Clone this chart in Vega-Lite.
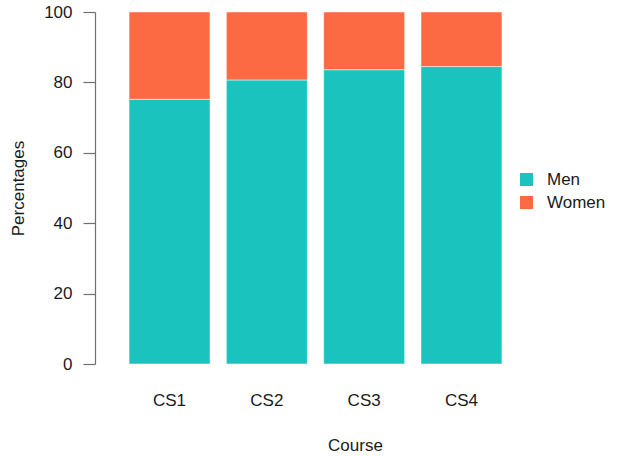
{
  "$schema": "https://vega.github.io/schema/vega-lite/v6.json",
  "width": 441,
  "height": 352,
  "autosize": {"type": "none"},
  "padding": {"left": 95, "top": 12, "right": 82, "bottom": 92},
  "background": "white",
  "config": {
    "view": {"stroke": null},
    "font": "Liberation Sans"
  },
  "data": {
    "values": [
      {"course": "CS1", "sex": "Men", "pct": 75.2},
      {"course": "CS1", "sex": "Women", "pct": 24.8},
      {"course": "CS2", "sex": "Men", "pct": 80.7},
      {"course": "CS2", "sex": "Women", "pct": 19.3},
      {"course": "CS3", "sex": "Men", "pct": 83.6},
      {"course": "CS3", "sex": "Women", "pct": 16.4},
      {"course": "CS4", "sex": "Men", "pct": 84.5},
      {"course": "CS4", "sex": "Women", "pct": 15.5}
    ]
  },
  "mark": {"type": "bar", "stroke": "white", "strokeWidth": 0.5},
  "encoding": {
    "x": {
      "field": "course",
      "type": "nominal",
      "scale": {"paddingInner": 0.168, "paddingOuter": 0.35},
      "axis": {
        "title": "Course",
        "labelAngle": 0,
        "domain": false,
        "ticks": false,
        "grid": false,
        "labelFontSize": 17,
        "labelColor": "#1a1a1a",
        "labelPadding": 28,
        "titleFontSize": 17,
        "titleFontWeight": "normal",
        "titleColor": "#1a1a1a",
        "titleX": 260,
        "titleY": 81,
        "titleBaseline": "middle",
        "titleAlign": "center"
      }
    },
    "y": {
      "field": "pct",
      "type": "quantitative",
      "stack": "zero",
      "scale": {"domain": [0, 100], "nice": false},
      "axis": {
        "title": "Percentages",
        "values": [0, 20, 40, 60, 80, 100],
        "grid": false,
        "tickSize": 12,
        "tickColor": "#707070",
        "domainColor": "#707070",
        "tickWidth": 1.2,
        "domainWidth": 1.2,
        "labelFontSize": 17,
        "labelColor": "#1a1a1a",
        "labelPadding": 11,
        "titleFontSize": 17,
        "titleFontWeight": "normal",
        "titleColor": "#1a1a1a",
        "titleX": -77,
        "titleY": 176,
        "titleAlign": "center",
        "titleBaseline": "middle",
        "titleAngle": -90
      }
    },
    "order": {"field": "sex", "sort": "ascending"},
    "color": {
      "field": "sex",
      "type": "nominal",
      "scale": {"domain": ["Men", "Women"], "range": ["#1bc3bf", "#fc6a43"]},
      "legend": {
        "title": null,
        "orient": "none",
        "legendX": 423,
        "legendY": 159,
        "padding": 0,
        "symbolType": "square",
        "symbolSize": 169,
        "symbolStrokeWidth": 0,
        "labelFontSize": 17,
        "labelColor": "#1a1a1a",
        "labelOffset": 12,
        "rowPadding": 5
      }
    }
  }
}
